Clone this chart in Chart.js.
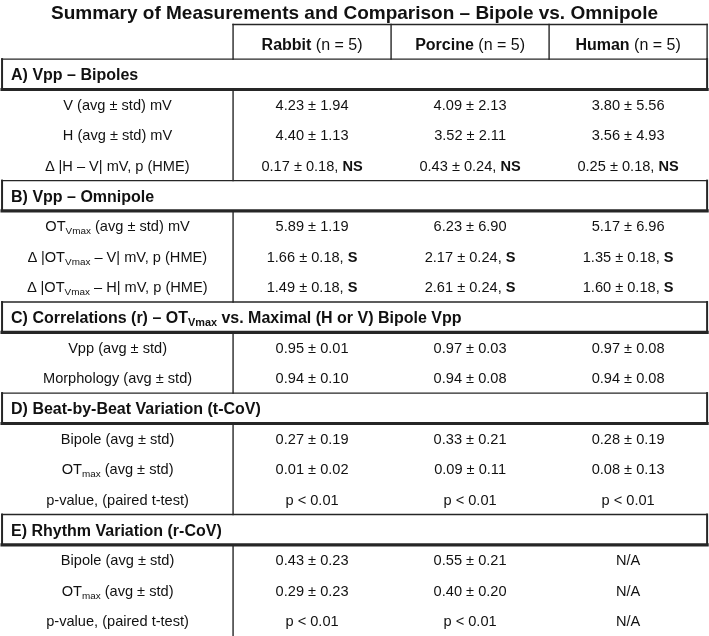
<!DOCTYPE html>
<html>
<head>
<meta charset="utf-8">
<script src="https://cdn.jsdelivr.net/npm/chart.js@4.4.1/dist/chart.umd.min.js"></script>
<style>
  html, body { margin: 0; padding: 0; background: #fff; }
  #tabella { display: block; }
</style>
</head>
<body>
<canvas id="tabella" width="709" height="636"></canvas>
<script>
// --- dati della tabella ---
var titolo = "Summary of Measurements and Comparison \u2013 Bipole vs. Omnipole";
var specie = ["Rabbit", "Porcine", "Human"];
var numeroN = [5, 5, 5];

var sezioni = [
    "A) Vpp \u2013 Bipoles",
    "B) Vpp \u2013 Omnipole",
    "C) Correlations (r) \u2013 OT_{Vmax} vs. Maximal (H or V) Bipole Vpp",
    "D) Beat-by-Beat Variation (t-CoV)",
    "E) Rhythm Variation (r-CoV)"
];

var etichetteRighe = [
    "V (avg \u00b1 std) mV",
    "H (avg \u00b1 std) mV",
    "\u2206 |H \u2013 V| mV, p (HME)",
    "OT_{Vmax} (avg \u00b1 std) mV",
    "\u2206 |OT_{Vmax} \u2013 V| mV, p (HME)",
    "\u2206 |OT_{Vmax} \u2013 H| mV, p (HME)",
    "Vpp (avg \u00b1 std)",
    "Morphology (avg \u00b1 std)",
    "Bipole (avg \u00b1 std)",
    "OT_{max} (avg \u00b1 std)",
    "p-value, (paired t-test)",
    "Bipole (avg \u00b1 std)",
    "OT_{max} (avg \u00b1 std)",
    "p-value, (paired t-test)"
];
var sezioneDiRiga = [0, 0, 0, 1, 1, 1, 2, 2, 3, 3, 3, 4, 4, 4];

var mediaRabbit  = [4.23, 4.40, 0.17, 5.89, 1.66, 1.49, 0.95, 0.94, 0.27, 0.01, null, 0.43, 0.29, null];
var stdRabbit    = [1.94, 1.13, 0.18, 1.19, 0.18, 0.18, 0.01, 0.10, 0.19, 0.02, null, 0.23, 0.23, null];
var notaRabbit   = ["", "", "NS", "", "S", "S", "", "", "", "", "p < 0.01", "", "", "p < 0.01"];

var mediaPorcine = [4.09, 3.52, 0.43, 6.23, 2.17, 2.61, 0.97, 0.94, 0.33, 0.09, null, 0.55, 0.40, null];
var stdPorcine   = [2.13, 2.11, 0.24, 6.90, 0.24, 0.24, 0.03, 0.08, 0.21, 0.11, null, 0.21, 0.20, null];
var notaPorcine  = ["", "", "NS", "", "S", "S", "", "", "", "", "p < 0.01", "", "", "p < 0.01"];

var mediaHuman   = [3.80, 3.56, 0.25, 5.17, 1.35, 1.60, 0.97, 0.94, 0.28, 0.08, null, null, null, null];
var stdHuman     = [5.56, 4.93, 0.18, 6.96, 0.18, 0.18, 0.08, 0.08, 0.19, 0.13, null, null, null, null];
var notaHuman    = ["", "", "NS", "", "S", "S", "", "", "", "", "p < 0.01", "N/A", "N/A", "N/A"];

// --- stile ---
var FONT = "Arial, 'Liberation Sans', Helvetica, sans-serif";
var COLORE_TESTO = "#111111";
var COLORE_LINEE = "#262626";

// colonne: etichette a sinistra (~1.47 colonne dati), poi 3 colonne dati centrate su 1,2,3
var X_MIN = -0.975, X_MAX = 3.512;
var BORDO_SX = -0.962, BORDO_ETICHETTE = 0.5, BORDO_DX = 3.5;

// costruisco la sequenza di righe della tabella (0 = intestazione)
var righeSezione = [];
var righeDati = [];
var r = 1;
for (var s = 0; s < sezioni.length; s++) {
    righeSezione.push(r);
    r++;
    for (var k = 0; k < etichetteRighe.length; k++) {
        if (sezioneDiRiga[k] === s) {
            righeDati[k] = r;
            r++;
        }
    }
}
var ultimaRiga = r - 1;

function cella(media, std, nota, k) {
    if (media[k] === null) return nota[k];
    var t = media[k].toFixed(2) + " \u00b1 " + std[k].toFixed(2);
    if (nota[k]) t += ", **" + nota[k] + "**";
    return t;
}

function datasetColonna(col, media, std, nota) {
    return {
        data: etichetteRighe.map(function (e, k) { return { x: col, y: righeDati[k] }; }),
        testi: etichetteRighe.map(function (e, k) { return cella(media, std, nota, k); }),
        allinea: "center", grassetto: false, dimensione: 14.6,
        pointRadius: 0
    };
}

// testo con **grassetto** e _{pedice}
function spezza(str) {
    var pezzi = [];
    var re = /\*\*(.+?)\*\*|_\{(.+?)\}/g;
    var ultimo = 0, m;
    while ((m = re.exec(str))) {
        if (m.index > ultimo) pezzi.push({ t: str.slice(ultimo, m.index) });
        if (m[1] !== undefined) pezzi.push({ t: m[1], b: true });
        else pezzi.push({ t: m[2], sub: true });
        ultimo = re.lastIndex;
    }
    if (ultimo < str.length) pezzi.push({ t: str.slice(ultimo) });
    return pezzi;
}

function fontPezzo(p, base, dim) {
    var bold = base || p.b;
    var size = p.sub ? dim * 0.68 : dim;
    return (bold ? "bold " : "") + size + "px " + FONT;
}

function scriviRicco(ctx, str, x, y, allinea, base, dim) {
    var pezzi = spezza(str);
    var larghezza = 0;
    pezzi.forEach(function (p) {
        ctx.font = fontPezzo(p, base, dim);
        p.w = ctx.measureText(p.t).width;
        larghezza += p.w;
    });
    var cx = allinea === "center" ? x - larghezza / 2 : x;
    ctx.textBaseline = "alphabetic";
    ctx.textAlign = "left";
    var linea = y + dim * 0.36;
    pezzi.forEach(function (p) {
        ctx.font = fontPezzo(p, base, dim);
        ctx.fillText(p.t, cx, p.sub ? linea + dim * 0.2 : linea);
        cx += p.w;
    });
}

var pluginGriglia = {
    id: "griglia",
    beforeDatasetsDraw: function (chart) {
        var ctx = chart.ctx;
        var sx = chart.scales.x, sy = chart.scales.y;
        var px = function (v) { return sx.getPixelForValue(v); };
        var py = function (v) { return sy.getPixelForValue(v); };
        ctx.save();
        ctx.strokeStyle = COLORE_LINEE;
        ctx.lineCap = "square";

        function linea(x1, y1, x2, y2, w) {
            ctx.lineWidth = w;
            ctx.beginPath();
            ctx.moveTo(x1, y1);
            ctx.lineTo(x2, y2);
            ctx.stroke();
        }

        // intestazione
        var top = py(-0.64), bot = py(0.5);
        linea(px(BORDO_ETICHETTE), top, px(BORDO_DX), top, 1.4);
        linea(px(BORDO_ETICHETTE), top, px(BORDO_ETICHETTE), bot, 1.4);
        linea(px(BORDO_DX), top, px(BORDO_DX), bot, 1.4);
        linea(px(1.5), top, px(1.5), bot, 1.4);
        linea(px(2.5), top, px(2.5), bot, 1.4);

        // riquadri di sezione + divisorio verticale
        righeSezione.forEach(function (rs, i) {
            var t = py(rs - 0.5), b = py(rs + 0.5);
            linea(px(BORDO_SX), t, px(BORDO_DX), t, 1.4);
            linea(px(BORDO_SX), t, px(BORDO_SX), b, 2);
            linea(px(BORDO_DX), t, px(BORDO_DX), b, 2);
            linea(px(BORDO_SX), b, px(BORDO_DX), b, 3.2);
            var fine = i + 1 < righeSezione.length ? py(righeSezione[i + 1] - 0.5) : py(ultimaRiga + 0.5);
            linea(px(BORDO_ETICHETTE), b, px(BORDO_ETICHETTE), fine, 1.4);
        });
        ctx.restore();
    }
};

var pluginTesti = {
    id: "testi",
    afterDatasetsDraw: function (chart) {
        var ctx = chart.ctx;
        ctx.save();
        ctx.fillStyle = COLORE_TESTO;
        chart.data.datasets.forEach(function (ds, i) {
            var meta = chart.getDatasetMeta(i);
            meta.data.forEach(function (el, j) {
                var x = el.x + (ds.scostamento || 0);
                scriviRicco(ctx, ds.testi[j], x, el.y, ds.allinea, ds.grassetto, ds.dimensione);
            });
        });
        ctx.restore();
    }
};

var ctx = document.getElementById("tabella");
var tabella = new Chart(ctx, {
    type: "scatter",
    data: {
        datasets: [
            {
                data: specie.map(function (s, j) { return { x: j + 1, y: 0 }; }),
                testi: specie.map(function (s, j) { return "**" + s + "** (n = " + numeroN[j] + ")"; }),
                allinea: "center", grassetto: false, dimensione: 16,
                pointRadius: 0
            },
            {
                data: sezioni.map(function (s, i) { return { x: BORDO_SX, y: righeSezione[i] }; }),
                testi: sezioni,
                allinea: "left", grassetto: true, dimensione: 16, scostamento: 9,
                pointRadius: 0
            },
            {
                data: etichetteRighe.map(function (e, k) { return { x: (BORDO_SX + BORDO_ETICHETTE) / 2, y: righeDati[k] }; }),
                testi: etichetteRighe,
                allinea: "center", grassetto: false, dimensione: 14.6,
                pointRadius: 0
            },
            datasetColonna(1, mediaRabbit, stdRabbit, notaRabbit),
            datasetColonna(2, mediaPorcine, stdPorcine, notaPorcine),
            datasetColonna(3, mediaHuman, stdHuman, notaHuman)
        ]
    },
    options: {
        responsive: false,
        animation: false,
        events: [],
        layout: { padding: 0 },
        scales: {
            x: { type: "linear", display: false, min: X_MIN, max: X_MAX },
            y: { type: "linear", display: false, reverse: true, min: -0.5, max: ultimaRiga + 0.5 }
        },
        plugins: {
            legend: { display: false },
            tooltip: { enabled: false },
            title: {
                display: true,
                text: titolo,
                color: COLORE_TESTO,
                font: { family: FONT, size: 19, weight: "bold" },
                padding: { top: 2, bottom: 4 }
            }
        }
    },
    plugins: [pluginGriglia, pluginTesti]
});
</script>
</body>
</html>
